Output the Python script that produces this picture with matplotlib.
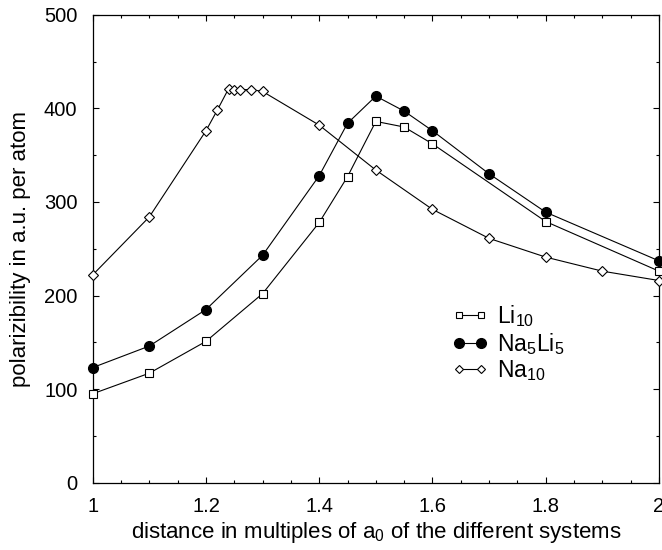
import matplotlib
matplotlib.use("Agg")
import matplotlib.pyplot as plt
from matplotlib.ticker import MultipleLocator

plt.rcParams['font.family'] = ['Liberation Sans', 'DejaVu Sans']
plt.rcParams['mathtext.default'] = 'regular'

# Data
x_li10 = [1.0, 1.1, 1.2, 1.3, 1.4, 1.45, 1.5, 1.55, 1.6, 1.8, 2.0]
y_li10 = [95, 117, 151, 202, 278, 327, 386, 380, 362, 279, 226]

x_nali = [1.0, 1.1, 1.2, 1.3, 1.4, 1.45, 1.5, 1.55, 1.6, 1.7, 1.8, 2.0]
y_nali = [123, 146, 185, 243, 328, 384, 413, 397, 376, 330, 289, 237]

x_na10 = [1.0, 1.1, 1.2, 1.22, 1.24, 1.25, 1.26, 1.28, 1.3, 1.4, 1.5, 1.6, 1.7, 1.8, 1.9, 2.0]
y_na10 = [222, 284, 376, 398, 421, 420, 420, 420, 418, 382, 334, 292, 261, 241, 226, 216]

labels = [r'Li$_{10}$', r'Na$_5$Li$_5$', r'Na$_{10}$']
xticks = [1, 1.2, 1.4, 1.6, 1.8, 2]
xtick_labels = ['1', '1.2', '1.4', '1.6', '1.8', '2']
yticks = [0, 100, 200, 300, 400, 500]

fig = plt.figure(figsize=(6.62, 5.5), dpi=100)
ax = fig.add_axes([92.7/662, 1 - 482.7/550, (659 - 92.7)/662, (482.7 - 14.7)/550])

lw = 0.8
ax.plot(x_li10, y_li10, color='black', lw=lw, marker='s', ms=6, mfc='white',
        mec='black', mew=0.8, clip_on=False, label=labels[0], zorder=3)
ax.plot(x_nali, y_nali, color='black', lw=lw, marker='o', ms=7, mfc='black',
        mec='black', clip_on=False, label=labels[1], zorder=3)
ax.plot(x_na10, y_na10, color='black', lw=lw, marker='D', ms=5.5, mfc='white',
        mec='black', mew=0.8, clip_on=False, label=labels[2], zorder=3)

ax.set_xlim(1, 2)
ax.set_ylim(0, 500)
ax.set_xticks(xticks)
ax.set_xticklabels(xtick_labels)
ax.set_yticks(yticks)
ax.xaxis.set_minor_locator(MultipleLocator(0.05))
ax.yaxis.set_minor_locator(MultipleLocator(50))
ax.tick_params(which='both', direction='in', top=True, right=True, width=0.8,
               labelsize=14.5)
ax.tick_params(axis='x', pad=10)
ax.tick_params(axis='y', pad=11)
ax.tick_params(which='major', length=4.5)
ax.tick_params(which='minor', length=2.5)
for s in ax.spines.values():
    s.set_linewidth(0.9)

ax.set_xlabel(r'distance in multiples of a$_0$ of the different systems', fontsize=16, labelpad=3)
ax.set_ylabel('polarizibility in a.u. per atom', fontsize=16, labelpad=9)

leg = ax.legend(loc='upper left', bbox_to_anchor=(0.634, 0.384), frameon=False,
                fontsize=16.5, handlelength=1.57, handletextpad=0.4, numpoints=2,
                labelspacing=0.08, borderpad=0, borderaxespad=0)
for h, ms in zip(leg.legend_handles, [5, 7, 4.5]):
    h.set_markersize(ms)

fig.savefig('out.png', dpi=100)
